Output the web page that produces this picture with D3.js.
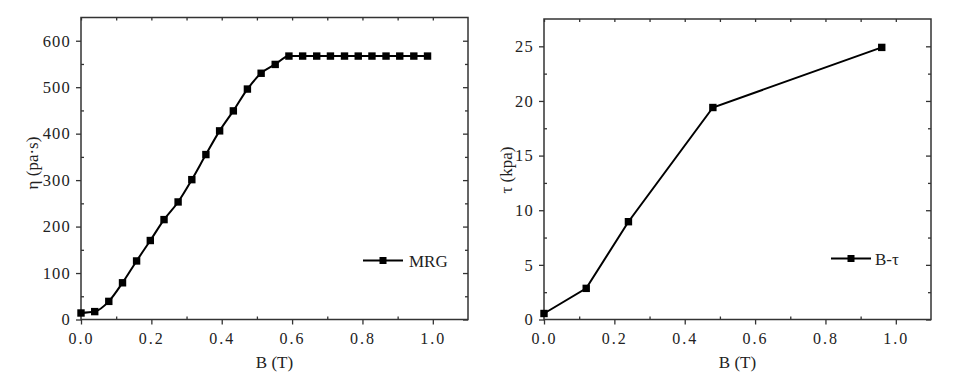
<!DOCTYPE html>
<html>
<head>
<meta charset="utf-8">
<script src="https://cdn.jsdelivr.net/npm/d3@7"></script>
<style>
  body { margin: 0; background: #fff; }
  svg { display: block; }
  text { font-family: "Liberation Serif", "Times New Roman", serif; fill: #222; }
</style>
</head>
<body>
<svg id="chart" width="965" height="383"></svg>
<script>
// left panel: viscosity vs field
var mrgB = [0, 0.039, 0.079, 0.118, 0.158, 0.197, 0.236, 0.276, 0.315, 0.355, 0.394, 0.433, 0.473,
  0.512, 0.552, 0.591, 0.630, 0.670, 0.709, 0.749, 0.788, 0.827, 0.867, 0.906, 0.946, 0.985];
var mrgEta = [14, 17, 39, 79, 126, 170, 215, 253, 301, 355, 406, 449, 496,
  530, 549, 567, 567, 567, 567, 567, 567, 567, 567, 567, 567, 567];
var etaTicks = [0, 100, 200, 300, 400, 500, 600];

// right panel: yield stress vs field
var tauB = [0, 0.12, 0.24, 0.48, 0.96];
var tauVal = [0.55, 2.85, 8.95, 19.4, 24.9];
var tauTicks = [0, 5, 10, 15, 20, 25];

var bTicks = [0, 0.2, 0.4, 0.6, 0.8, 1.0];

var svg = d3.select('#chart');
var serif = '"Liberation Serif", "Times New Roman", serif';

function panel(opt) {
  var x = d3.scaleLinear().domain([0, 1.1]).range([opt.left, opt.right]);
  var y = d3.scaleLinear().domain([0, opt.ymax]).range([opt.bottom, opt.top]);
  var g = svg.append('g');
  var minorX = d3.range(0.1, 1.1, 0.2);
  var ystep = opt.yticks[1] - opt.yticks[0];
  var minorY = d3.range(ystep / 2, opt.ymax, ystep);

  // bottom axis: major out, minor in
  var xb = g.append('g').attr('transform', `translate(0,${opt.bottom})`)
    .call(d3.axisBottom(x).tickValues(bTicks).tickSize(5).tickPadding(8).tickFormat(d3.format('.1f')));
  xb.select('.domain').remove();
  xb.attr('font-family', serif).attr('font-size', 16);
  xb.selectAll('text').style('letter-spacing', '2px').attr('fill', '#222');
  g.append('g').attr('transform', `translate(0,${opt.bottom})`)
    .call(d3.axisTop(x).tickValues(minorX).tickSize(3).tickFormat(''))
    .select('.domain').remove();

  // left axis
  var yl = g.append('g').attr('transform', `translate(${opt.left},0)`)
    .call(d3.axisLeft(y).tickValues(opt.yticks).tickSize(5).tickPadding(5));
  yl.select('.domain').remove();
  yl.attr('font-family', serif).attr('font-size', 16.5);
  yl.selectAll('text').style('letter-spacing', '1.2px').attr('fill', '#222');
  g.append('g').attr('transform', `translate(${opt.left},0)`)
    .call(d3.axisRight(y).tickValues(minorY).tickSize(3).tickFormat(''))
    .select('.domain').remove();

  // top and right mirrored ticks, inward
  g.append('g').attr('transform', `translate(0,${opt.top})`)
    .call(d3.axisBottom(x).tickValues(bTicks.concat(minorX)).tickSize(3).tickFormat(''))
    .select('.domain').remove();
  g.append('g').attr('transform', `translate(${opt.right},0)`)
    .call(d3.axisLeft(y).tickValues(opt.yticks).tickSize(5).tickFormat(''))
    .select('.domain').remove();
  g.append('g').attr('transform', `translate(${opt.right},0)`)
    .call(d3.axisLeft(y).tickValues(minorY).tickSize(3).tickFormat(''))
    .select('.domain').remove();

  g.selectAll('.tick line').attr('stroke', '#333').attr('stroke-width', 1.3);

  g.append('rect')
    .attr('x', opt.left).attr('y', opt.top)
    .attr('width', opt.right - opt.left).attr('height', opt.bottom - opt.top)
    .attr('fill', 'none').attr('stroke', '#333').attr('stroke-width', 1.5);

  var pts = opt.xs.map((d, i) => [d, opt.ys[i]]);
  var line = d3.line().x(d => x(d[0])).y(d => y(d[1])).curve(opt.curve);
  g.append('path').datum(pts)
    .attr('d', line).attr('fill', 'none').attr('stroke', '#000').attr('stroke-width', 2);
  g.selectAll('rect.mk').data(pts).enter().append('rect').attr('class', 'mk')
    .attr('x', d => x(d[0]) - 3.7).attr('y', d => y(d[1]) - 3.7)
    .attr('width', 7.4).attr('height', 7.4).attr('fill', '#000');

  // legend
  g.append('line').attr('x1', opt.legX).attr('x2', opt.legX + 40)
    .attr('y1', opt.legY).attr('y2', opt.legY).attr('stroke', '#000').attr('stroke-width', 2);
  g.append('rect').attr('x', opt.legX + 16.5).attr('y', opt.legY - 3.5)
    .attr('width', 7).attr('height', 7).attr('fill', '#000');
  g.append('text').attr('x', opt.legX + opt.legGap).attr('y', opt.legY + 6)
    .style('font-size', '17px').text(opt.legend);

  // titles
  g.append('text').attr('x', (opt.left + opt.right) / 2).attr('y', 368)
    .attr('text-anchor', 'middle').style('font-size', '17px').text('B (T)');
  g.append('text').attr('transform', `translate(${opt.yTitleX},${opt.yTitleY}) rotate(-90)`)
    .attr('text-anchor', 'middle').style('font-size', '17px').text(opt.yTitle);
}

panel({left: 81, right: 468, top: 17.5, bottom: 319.5, ymax: 650, yticks: etaTicks,
  xs: mrgB, ys: mrgEta, curve: d3.curveMonotoneX, legend: 'MRG',
  legX: 363, legY: 260.5, legGap: 46, yTitle: 'η (pa·s)', yTitleX: 38, yTitleY: 163});

panel({left: 544, right: 931, top: 19, bottom: 319.5, ymax: 27.5, yticks: tauTicks,
  xs: tauB, ys: tauVal, curve: d3.curveLinear, legend: 'B-τ',
  legX: 831, legY: 258.5, legGap: 44, yTitle: 'τ (kpa)', yTitleX: 512, yTitleY: 170});
</script>
</body>
</html>
